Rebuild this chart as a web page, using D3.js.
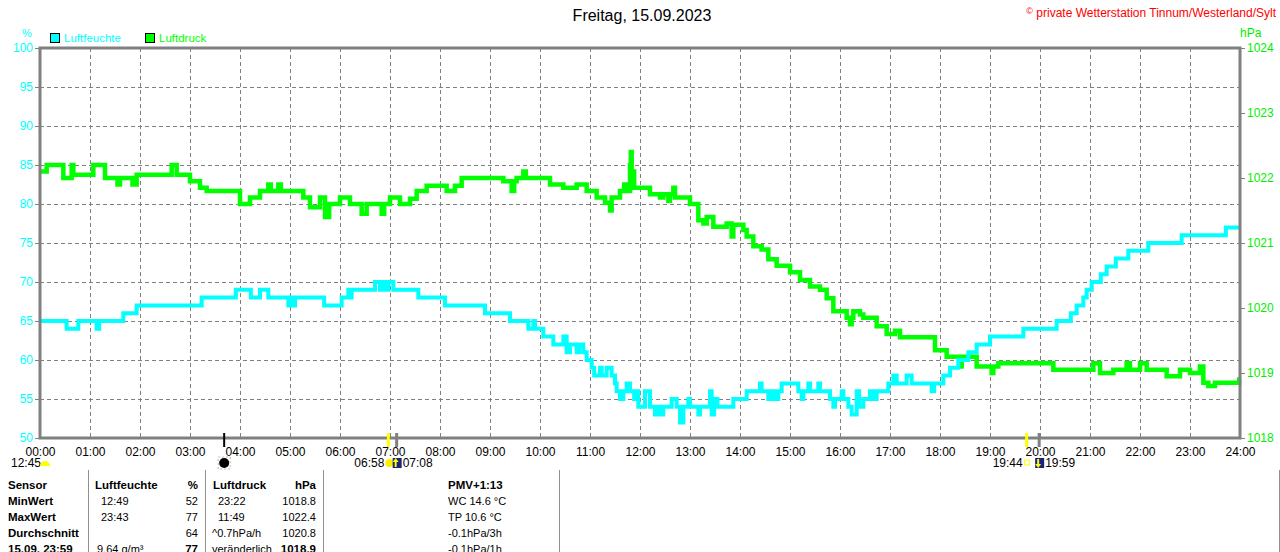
<!DOCTYPE html>
<html>
<head>
<meta charset="utf-8">
<script src="https://cdn.jsdelivr.net/npm/d3@7"></script>
<style>
    body { margin: 0; background: #fff; }
    svg text { font-family: "Liberation Sans", Arial, sans-serif; }
</style>
</head>
<body>
<div id="chart"></div>
<script>

// hour labels under the plot
const hourLabels = ["00:00", "01:00", "02:00", "03:00", "04:00", "05:00", "06:00", "07:00", "08:00",
    "09:00", "10:00", "11:00", "12:00", "13:00", "14:00", "15:00", "16:00", "17:00", "18:00",
    "19:00", "20:00", "21:00", "22:00", "23:00", "24:00"];
const humidityTicks = [50, 55, 60, 65, 70, 75, 80, 85, 90, 95, 100];
const pressureTicks = [1018, 1019, 1020, 1021, 1022, 1023, 1024];

// Luftfeuchte (%), value holds from given time until next change
const humidityTimes = ["00:00", "00:32", "00:46", "01:08", "01:11", "01:40", "01:56", "03:14", "03:55", "04:13",
    "04:24", "04:34", "04:58", "05:00", "05:04", "05:06", "05:41", "06:02", "06:10", "06:12",
    "06:14", "06:42", "06:48", "06:52", "06:56", "06:58", "07:04", "07:34", "08:06", "08:54",
    "09:24", "09:46", "09:52", "09:54", "10:04", "10:16", "10:28", "10:32", "10:36", "10:44",
    "10:47", "10:52", "10:56", "11:02", "11:05", "11:12", "11:14", "11:20", "11:26", "11:30",
    "11:32", "11:36", "11:40", "11:44", "11:48", "11:53", "11:55", "11:58", "12:06", "12:12",
    "12:18", "12:22", "12:24", "12:28", "12:38", "12:44", "12:48", "12:52", "12:58", "13:00",
    "13:10", "13:12", "13:24", "13:26", "13:29", "13:33", "13:52", "14:08", "14:24", "14:26",
    "14:34", "14:38", "14:42", "14:46", "14:50", "15:10", "15:14", "15:16", "15:22", "15:24",
    "15:34", "15:36", "15:48", "15:52", "15:54", "16:02", "16:04", "16:10", "16:14", "16:20",
    "16:23", "16:28", "16:36", "16:40", "16:44", "16:58", "17:04", "17:08", "17:20", "17:26",
    "17:50", "17:53", "18:04", "18:12", "18:22", "18:34", "18:44", "19:00", "19:40", "20:20",
    "20:37", "20:44", "20:52", "20:56", "21:02", "21:13", "21:20", "21:31", "21:46", "22:10",
    "22:50", "23:43"];
const humidityValues = [65, 64, 65, 64, 65, 66, 67, 68, 69, 68,
    69, 68, 67, 68, 67, 68, 67, 68, 69, 68,
    69, 70, 69, 70, 69, 70, 69, 68, 67, 66,
    65, 64, 65, 64, 63, 62, 63, 61, 62, 61,
    62, 61, 60, 59, 58, 59, 58, 59, 58, 57,
    56, 55, 56, 57, 56, 55, 56, 54, 56, 54,
    53, 54, 53, 54, 55, 54, 52, 54, 55, 54,
    53, 54, 56, 53, 55, 54, 55, 56, 57, 56,
    55, 56, 55, 56, 57, 56, 55, 56, 57, 56,
    57, 56, 55, 54, 55, 56, 55, 54, 53, 56,
    54, 55, 56, 55, 56, 57, 58, 57, 58, 57,
    56, 57, 58, 59, 60, 61, 62, 63, 64, 65,
    66, 67, 68, 69, 70, 71, 72, 73, 74, 75,
    76, 77];

// Luftdruck (hPa)
const pressureTimes = ["00:00", "00:08", "00:28", "00:38", "00:40", "01:04", "01:18", "01:33", "01:36", "01:51",
    "01:56", "02:38", "02:44", "03:00", "03:12", "03:20", "04:00", "04:12", "04:24", "04:34",
    "04:37", "04:46", "04:49", "05:16", "05:24", "05:36", "05:42", "05:47", "06:00", "06:12",
    "06:26", "06:32", "06:50", "06:53", "07:00", "07:12", "07:24", "07:32", "07:44", "08:08",
    "08:18", "08:26", "09:16", "09:26", "09:29", "09:32", "09:40", "09:43", "10:12", "10:28",
    "10:44", "10:56", "11:08", "11:18", "11:24", "11:26", "11:36", "11:41", "11:43", "11:48",
    "11:49", "11:50", "11:53", "12:12", "12:24", "12:28", "12:34", "12:36", "12:40", "12:42",
    "13:00", "13:10", "13:16", "13:20", "13:28", "13:44", "13:50", "13:52", "14:04", "14:08",
    "14:16", "14:26", "14:34", "14:44", "15:00", "15:12", "15:24", "15:36", "15:44", "15:52",
    "16:08", "16:12", "16:14", "16:16", "16:24", "16:28", "16:44", "16:56", "17:06", "17:12",
    "17:54", "18:08", "18:24", "18:26", "18:44", "19:02", "19:04", "19:10", "20:16", "21:04",
    "21:12", "21:28", "21:44", "21:48", "22:00", "22:08", "22:32", "22:48", "23:00", "23:12",
    "23:16", "23:22", "23:30", "23:59"];
const pressureValues = [1022.1, 1022.2, 1022.0, 1022.2, 1022.05, 1022.2, 1022.0, 1021.9, 1022.0, 1021.9,
    1022.05, 1022.2, 1022.05, 1021.95, 1021.85, 1021.8, 1021.6, 1021.7, 1021.8, 1021.9,
    1021.8, 1021.9, 1021.8, 1021.7, 1021.55, 1021.7, 1021.4, 1021.6, 1021.7, 1021.6,
    1021.45, 1021.6, 1021.45, 1021.6, 1021.7, 1021.6, 1021.68, 1021.8, 1021.88, 1021.8,
    1021.88, 1022.0, 1021.95, 1021.8, 1021.95, 1022.0, 1022.1, 1022.0, 1021.9, 1021.85,
    1021.9, 1021.8, 1021.7, 1021.62, 1021.5, 1021.7, 1021.8, 1021.9, 1021.8, 1022.2,
    1022.4, 1022.1, 1021.85, 1021.75, 1021.7, 1021.75, 1021.65, 1021.75, 1021.85, 1021.7,
    1021.6, 1021.35, 1021.3, 1021.4, 1021.25, 1021.3, 1021.1, 1021.28, 1021.2, 1021.1,
    1020.95, 1020.9, 1020.75, 1020.65, 1020.55, 1020.43, 1020.33, 1020.28, 1020.15, 1019.95,
    1019.85, 1019.75, 1019.85, 1019.95, 1019.9, 1019.85, 1019.72, 1019.6, 1019.65, 1019.55,
    1019.35, 1019.25, 1019.1, 1019.25, 1019.1, 1019.0, 1019.1, 1019.15, 1019.05, 1019.15,
    1019.0, 1019.05, 1019.15, 1019.05, 1019.15, 1019.05, 1018.95, 1019.05, 1019.0, 1019.1,
    1018.85, 1018.8, 1018.85, 1018.9];

// sun / moon markers on the time axis
const dayLength = "12:45";
const moonTime = "03:41";
const sunTimes = ["06:58", "19:44"];
const twilightTimes = ["07:08", "19:59"];

// table below the chart
const rowLabels = ["MinWert", "MaxWert", "Durchschnitt", "15.09. 23:59"];
const humidityNotes = ["12:49", "23:43", "", "9.64 g/m³"];
const humidityStats = ["52", "77", "64", "77"];
const pressureNotes = ["23:22", "11:49", "^0.7hPa/h", "veränderlich"];
const pressureStats = ["1018.8", "1022.4", "1020.8", "1018.9"];
const extraLines = ["PMV+1:13", "WC 14.6 °C", "TP 10.6 °C", "-0.1hPa/3h", "-0.1hPa/1h"];

const grey = "#808080";


class WeatherDayVis {

    constructor(parentElement) {
        this.parentElement = parentElement;
        this.toMin = s => +s.slice(0, 2) * 60 + +s.slice(3, 5);
        this.initVis();
    }

    initVis() {
        let vis = this;

        vis.margin = {top: 48, right: 40, bottom: 114, left: 40};
        vis.width = 1280 - vis.margin.left - vis.margin.right;
        vis.height = 552 - vis.margin.top - vis.margin.bottom;
        vis.bottom = vis.margin.top + vis.height;

        vis.svg = d3.select("#" + vis.parentElement).append("svg")
            .attr("width", 1280)
            .attr("height", 552);

        vis.x = d3.scaleLinear().domain([0, 1440]).range([vis.margin.left, vis.margin.left + vis.width]);
        vis.yHum = d3.scaleLinear().domain([50, 100]).range([vis.bottom, vis.margin.top]);
        vis.yPres = d3.scaleLinear().domain([1018, 1024]).range([vis.bottom, vis.margin.top]);

        vis.wrangleData();
    }

    wrangleData() {
        let vis = this;

        vis.humData = humidityTimes.map((t, i) => ({t: vis.toMin(t), v: humidityValues[i]}));
        vis.humData.push({t: 1440, v: humidityValues[humidityValues.length - 1]});

        vis.presData = pressureTimes.map((t, i) => ({t: vis.toMin(t), v: pressureValues[i]}));
        vis.presData.push({t: 1440, v: pressureValues[pressureValues.length - 1]});

        vis.updateVis();
    }

    updateVis() {
        let vis = this;

        // dashed grid
        vis.svg.append("g").selectAll("line")
            .data(d3.range(1, 24))
            .enter().append("line")
            .attr("x1", d => vis.x(d * 60) + 0.5).attr("x2", d => vis.x(d * 60) + 0.5)
            .attr("y1", vis.margin.top).attr("y2", vis.bottom)
            .attr("stroke", grey).attr("stroke-dasharray", "4,3");

        vis.svg.append("g").selectAll("line")
            .data(humidityTicks.slice(1, -1))
            .enter().append("line")
            .attr("x1", vis.x(0)).attr("x2", vis.x(1440))
            .attr("y1", d => Math.round(vis.yHum(d)) + 0.5).attr("y2", d => Math.round(vis.yHum(d)) + 0.5)
            .attr("stroke", grey).attr("stroke-dasharray", "4,3");

        // left axis
        let yAxisL = vis.svg.append("g")
            .attr("transform", `translate(${vis.margin.left},0)`)
            .call(d3.axisLeft(vis.yHum).tickValues(humidityTicks).tickSize(5).tickPadding(2));
        yAxisL.select(".domain").remove();
        yAxisL.selectAll("line").attr("stroke", grey);
        yAxisL.selectAll("text").attr("fill", "#00ffff").style("font-size", "12px");

        // right axis
        let yAxisR = vis.svg.append("g")
            .attr("transform", `translate(${vis.margin.left + vis.width},0)`)
            .call(d3.axisRight(vis.yPres).tickValues(pressureTicks).tickFormat(d3.format("d"))
                .tickSize(5).tickPadding(2));
        yAxisR.select(".domain").remove();
        yAxisR.selectAll("line").attr("stroke", grey);
        yAxisR.selectAll("text").attr("fill", "#00ee00").style("font-size", "12px");

        // x axis labels
        let xAxis = vis.svg.append("g")
            .attr("transform", `translate(0,${vis.bottom})`)
            .call(d3.axisBottom(vis.x).tickValues(d3.range(0, 1441, 60))
                .tickFormat((d, i) => hourLabels[i]).tickSize(0).tickPadding(9));
        xAxis.select(".domain").remove();
        xAxis.selectAll("text").attr("fill", "#000").style("font-size", "12px");

        // series
        let line = d3.line().curve(d3.curveStepAfter).x(d => vis.x(d.t));

        vis.svg.append("path")
            .datum(vis.presData)
            .attr("d", line.y(d => vis.yPres(d.v)))
            .attr("fill", "none")
            .attr("stroke", "#00ff00")
            .attr("stroke-width", 4.5);

        vis.svg.append("path")
            .datum(vis.humData)
            .attr("d", line.y(d => vis.yHum(d.v)))
            .attr("fill", "none")
            .attr("stroke", "#00ffff")
            .attr("stroke-width", 4);

        // frame
        vis.svg.append("rect")
            .attr("x", vis.margin.left).attr("y", vis.margin.top)
            .attr("width", vis.width).attr("height", vis.height)
            .attr("fill", "none").attr("stroke", grey).attr("stroke-width", 3);

        vis.drawMarkers();
        vis.drawHeader();
        vis.drawTable();
    }

    drawMarkers() {
        let vis = this;
        let g = vis.svg.append("g");
        const yRow = 467;

        // moon
        let mx = vis.x(vis.toMin(moonTime));
        g.append("line").attr("x1", mx).attr("x2", mx).attr("y1", 433).attr("y2", 447)
            .attr("stroke", "#000").attr("stroke-width", 2);
        g.append("rect").attr("x", mx - 6).attr("y", 457).attr("width", 12).attr("height", 12)
            .attr("fill", "none").attr("stroke", "#bbb").attr("stroke-dasharray", "2,2");
        g.append("circle").attr("cx", mx).attr("cy", 463).attr("r", 5).attr("fill", "#000");

        // day length
        g.append("text").attr("x", 11).attr("y", yRow).style("font-size", "12px").text(dayLength);
        g.append("path")
            .attr("d", d3.arc()({innerRadius: 0, outerRadius: 5, startAngle: -Math.PI / 2, endAngle: Math.PI / 2}))
            .attr("transform", "translate(45,466)")
            .attr("fill", "#ffff00");

        sunTimes.forEach((s, i) => {
            let sx = vis.x(vis.toMin(s));
            let tx = vis.x(vis.toMin(twilightTimes[i]));
            g.append("line").attr("x1", sx).attr("x2", sx).attr("y1", 433).attr("y2", 447)
                .attr("stroke", "#ffff00").attr("stroke-width", 3);
            g.append("line").attr("x1", tx).attr("x2", tx).attr("y1", 433).attr("y2", 447)
                .attr("stroke", grey).attr("stroke-width", 3);

            g.append("text").attr("x", sx - 4).attr("y", yRow).attr("text-anchor", "end")
                .style("font-size", "12px").text(s);
            if (i === 0) {
                g.append("circle").attr("cx", sx + 1).attr("cy", 463).attr("r", 4).attr("fill", "#ffee00");
            } else {
                g.append("rect").attr("x", sx - 2).attr("y", 460).attr("width", 5).attr("height", 5)
                    .attr("fill", "none").attr("stroke", "#ffff00");
            }
            g.append("rect").attr("x", tx - 4).attr("y", 458).attr("width", 9).attr("height", 10)
                .attr("fill", "#1a237e");
            let ay = i === 0 ? [467, 461] : [459, 465];
            g.append("line").attr("x1", tx - 1).attr("x2", tx - 1).attr("y1", ay[0]).attr("y2", ay[1])
                .attr("stroke", "#ffff00").attr("stroke-width", 2);
            g.append("path")
                .attr("d", i === 0 ? `M${tx - 4},${462} L${tx - 1},${458} L${tx + 2},${462}Z`
                    : `M${tx - 4},${464} L${tx - 1},${468} L${tx + 2},${464}Z`)
                .attr("fill", "#ffff00");
            g.append("text").attr("x", tx + 6).attr("y", yRow).style("font-size", "12px")
                .text(twilightTimes[i]);
        });
    }

    drawHeader() {
        let vis = this;

        vis.svg.append("text")
            .attr("x", 642).attr("y", 21).attr("text-anchor", "middle")
            .style("font-size", "16px").attr("fill", "#000")
            .text("Freitag, 15.09.2023");

        let c = vis.svg.append("text")
            .attr("x", 1276).attr("y", 17).attr("text-anchor", "end")
            .style("font-size", "12px").attr("fill", "#ff0000");
        c.append("tspan").style("font-size", "9px").attr("dy", -3).text("©");
        c.append("tspan").attr("dy", 3).text(" private Wetterstation Tinnum/Westerland/Sylt");

        // unit labels
        vis.svg.append("text").attr("x", 27).attr("y", 37).attr("text-anchor", "middle")
            .style("font-size", "11px").attr("fill", "#00ffff").text("%");
        vis.svg.append("text").attr("x", 1240).attr("y", 37)
            .style("font-size", "12px").attr("fill", "#00ee00").text("hPa");

        // legend
        const legend = [{name: "Luftfeuchte", color: "#00ffff", x: 50}, {name: "Luftdruck", color: "#00ff00", x: 145}];
        let lg = vis.svg.append("g").selectAll("g").data(legend).enter().append("g");
        lg.append("rect").attr("x", d => d.x + 0.5).attr("y", 33.5).attr("width", 9).attr("height", 9)
            .attr("fill", d => d.color).attr("stroke", "#000");
        lg.append("text").attr("x", d => d.x + 14).attr("y", 42)
            .style("font-size", "11.5px").attr("fill", d => d.color).text(d => d.name);
    }

    drawTable() {
        let vis = this;
        let g = vis.svg.append("g").style("font-size", "11px").attr("fill", "#000");
        const rows = [505, 521, 537, 553];

        [88, 205, 323, 559, 1279].forEach(x => {
            g.append("line").attr("x1", x + 0.5).attr("x2", x + 0.5).attr("y1", 470).attr("y2", 552)
                .attr("stroke", "#909090");
        });

        let bold = (x, y, t, anchor) => g.append("text").attr("x", x).attr("y", y)
            .attr("text-anchor", anchor || "start").style("font-weight", "bold")
            .style("font-size", "11.5px").text(t);
        let norm = (x, y, t, anchor) => g.append("text").attr("x", x).attr("y", y)
            .attr("text-anchor", anchor || "start").text(t);

        bold(8, 489, "Sensor");
        bold(95, 489, "Luftfeuchte");
        bold(198, 489, "%", "end");
        bold(213, 489, "Luftdruck");
        bold(316, 489, "hPa", "end");

        rowLabels.forEach((r, i) => {
            let last = i === rowLabels.length - 1;
            bold(8, rows[i], r);
            norm(i < 2 ? 101 : 97, rows[i], humidityNotes[i]);
            (last ? bold : norm)(198, rows[i], humidityStats[i], "end");
            norm(i < 2 ? 218 : 212, rows[i], pressureNotes[i]);
            (last ? bold : norm)(316, rows[i], pressureStats[i], "end");
        });

        extraLines.forEach((t, i) => {
            (i === 0 ? bold : norm)(448, 489 + i * 16, t);
        });
    }
}

new WeatherDayVis("chart");

</script>
</body>
</html>
